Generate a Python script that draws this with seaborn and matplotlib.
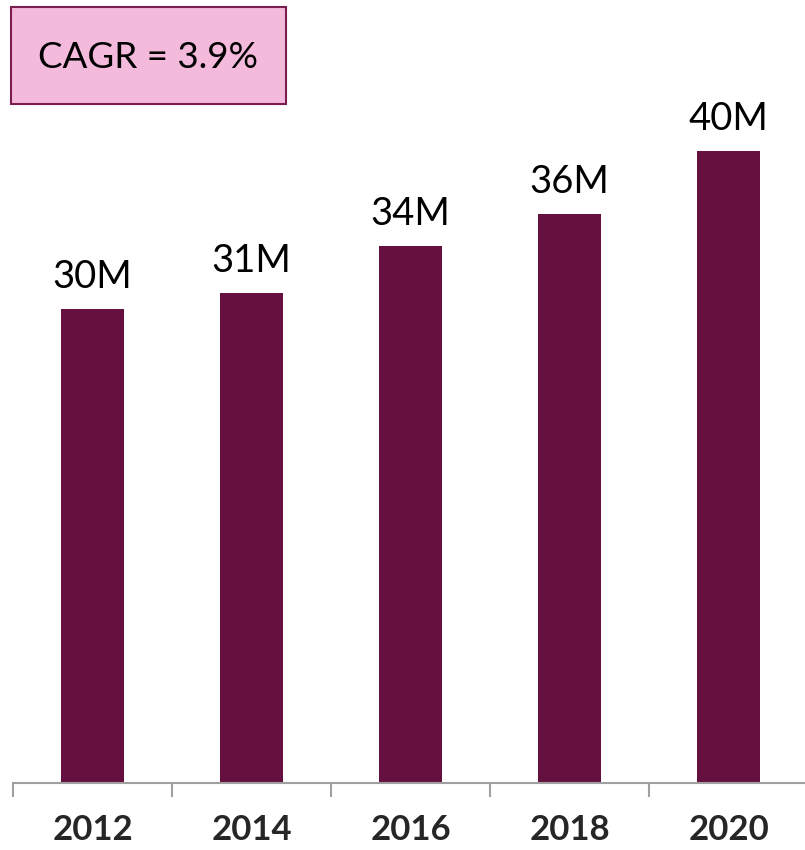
import matplotlib
matplotlib.use("Agg")
import matplotlib.pyplot as plt
import seaborn as sns
import pandas as pd
from matplotlib.patches import Rectangle

years = ["2012", "2014", "2016", "2018", "2020"]
users_m = [30, 31, 34, 36, 40]
cagr_text = "CAGR = 3.9%"

BAR = "#66103F"
AXIS_GRAY = "#A0A0A0"

sns.set_theme(style="white")
plt.rcParams["font.family"] = ["Lato", "DejaVu Sans"]

df = pd.DataFrame({"year": years, "users": users_m})

fig = plt.figure(figsize=(8.05, 8.5), dpi=100)
W, H = 805, 850
ax = fig.add_axes([13 / W, (H - 783) / H, 795 / W, 711 / H])

sns.barplot(data=df, x="year", y="users", color=BAR, width=0.4,
            saturation=1, ax=ax, edgecolor="none")

ax.set_xlim(-0.5, len(years) - 0.5)
ax.set_ylim(0, 45)

for i, v in enumerate(users_m):
    ax.annotate(f"{v}M", (i, v), xytext=(0, 10), textcoords="offset points",
                ha="center", va="bottom", fontsize=27.5, color="black")

for s in ["top", "right", "left"]:
    ax.spines[s].set_visible(False)
ax.spines["bottom"].set_color(AXIS_GRAY)
ax.spines["bottom"].set_linewidth(1.5)

ax.set_yticks([])
ax.set_xlabel("")
ax.set_ylabel("")
ax.set_xticks(range(len(years)))
ax.set_xticklabels(years, fontsize=25, fontweight="bold")
ax.tick_params(axis="x", which="major", length=0, pad=22)
ax.set_xticks([i - 0.5 for i in range(len(years) + 1)], minor=True)
ax.tick_params(axis="x", which="minor", length=10, width=1.5,
               color=AXIS_GRAY, direction="out", bottom=True)

# CAGR callout box
fig.patches.append(Rectangle((11 / W, 1 - 104 / H), 275 / W, 97 / H,
                             transform=fig.transFigure, facecolor="#F4BADB",
                             edgecolor="#7A1E50", linewidth=1.5))
fig.text(148 / W, 1 - 58 / H, cagr_text, ha="center", va="center",
         fontsize=26.5, color="black")

fig.savefig("out.png", dpi=100)
